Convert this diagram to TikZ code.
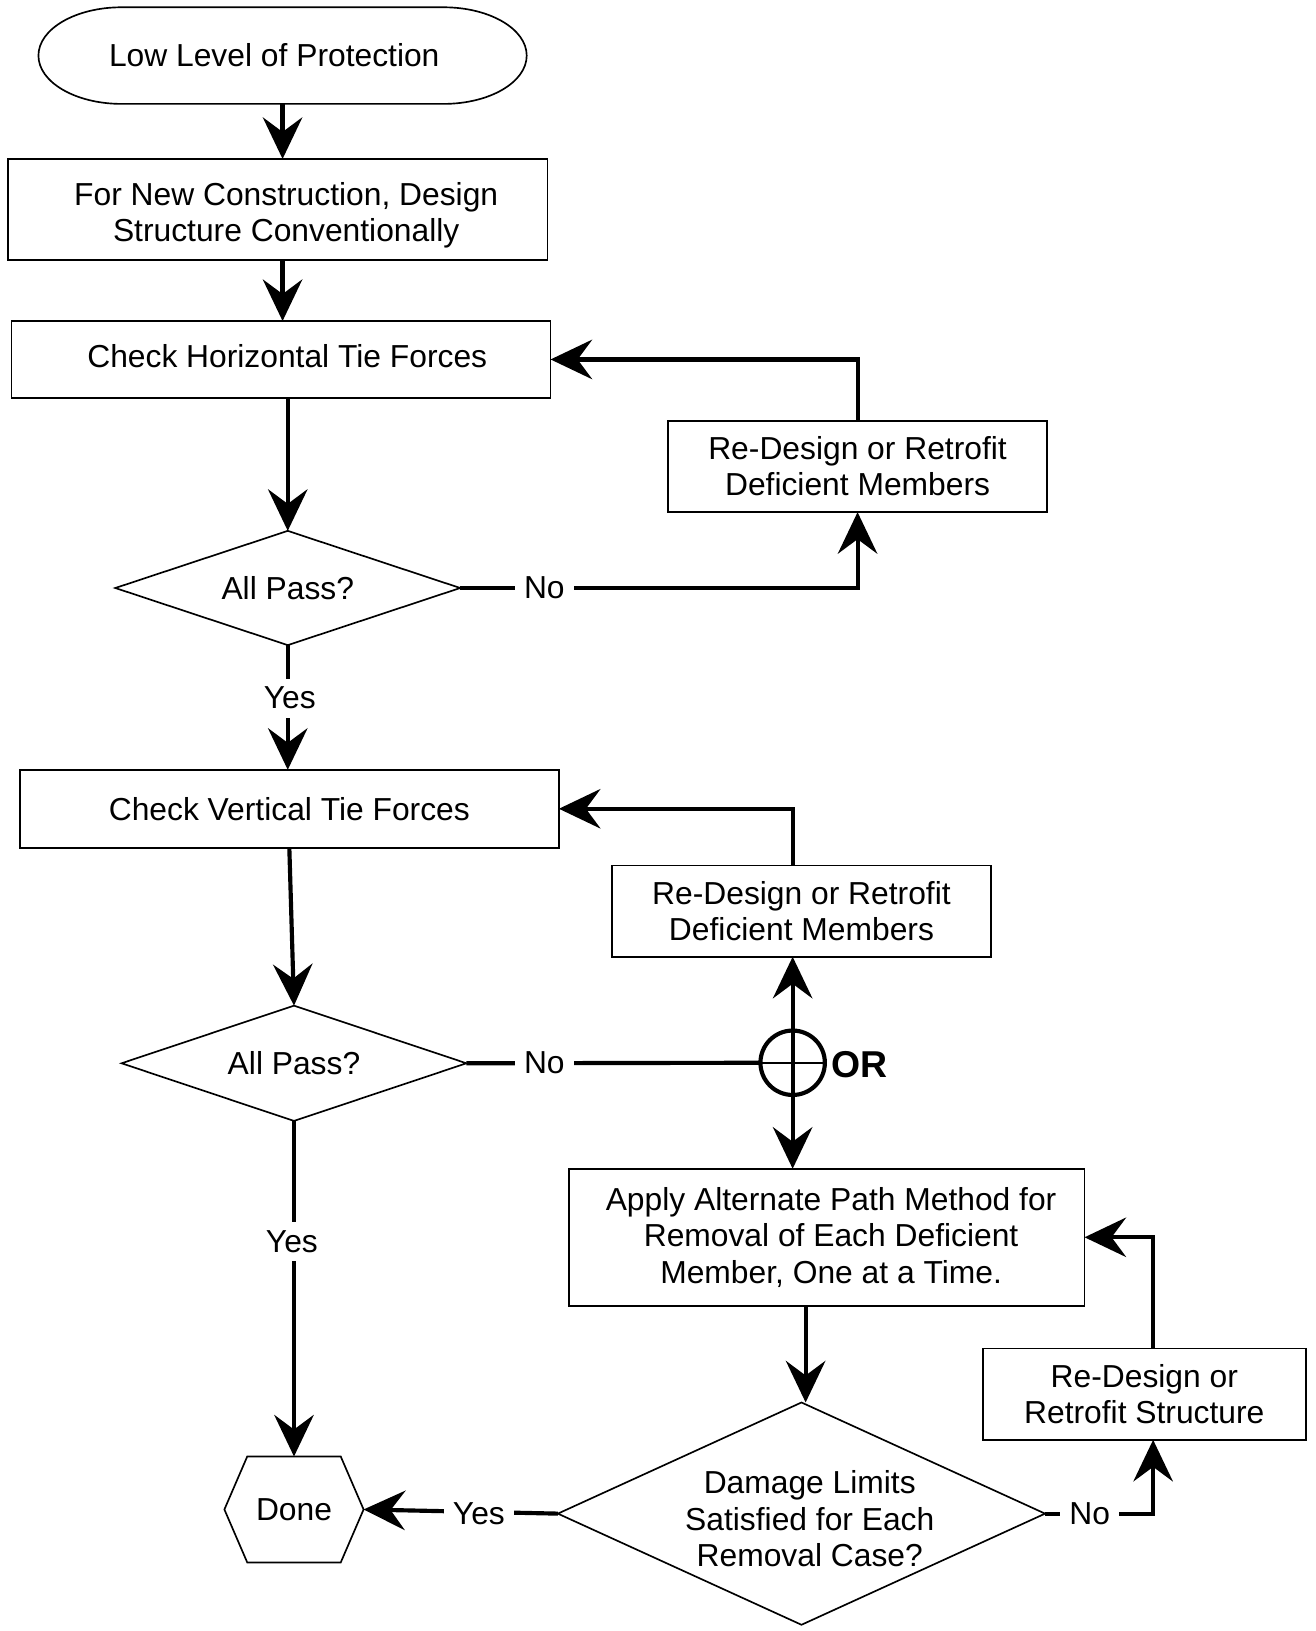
\documentclass[tikz,border=0pt]{standalone}
\usepackage{fontspec}
\setmainfont{Liberation Sans}
\usetikzlibrary{arrows.meta,shapes.geometric}
\begin{document}
\begin{tikzpicture}[x=0.5pt,y=0.5pt,
  every node/.style={font=\fontsize{15.3pt}{17.5pt}\selectfont, align=center},
  boxnode/.style={draw, line width=0.8pt, rectangle, inner sep=0pt, outer sep=0pt},
  decision/.style={draw, line width=0.8pt, diamond, inner sep=0pt, outer sep=0pt},
  plainnode/.style={inner sep=0pt, outer sep=0pt},
  conn/.style={line width=2pt, -{Stealth[length=20pt,width=19pt,inset=7pt]}},
  plainline/.style={line width=2pt},
  lab/.style={fill=white, inner xsep=4.5pt, inner ysep=4pt}
]
\useasboundingbox (0,0) rectangle (1266,-1570);

% start terminal
\node[plainnode, minimum width=235pt, minimum height=46.5pt] (start) at (272,-53.5) {};
\draw[line width=0.8pt] ([xshift=40pt]start.north west) -- ([xshift=-40pt]start.north east)
  arc[start angle=90, end angle=-90, x radius=80, y radius=46.5]
  -- ([xshift=40pt]start.south west)
  arc[start angle=270, end angle=90, x radius=80, y radius=46.5] -- cycle;
\node at ([xshift=-4pt]start.center) {Low Level of Protection};

\node[boxnode, minimum width=259.5pt, minimum height=48.5pt] (b1) at (267.5,-201.5) {};
\node at ([xshift=4pt,yshift=-3pt]b1.center) {For New Construction, Design\\Structure Conventionally};
\node[boxnode, minimum width=259.5pt, minimum height=37pt] (b2) at (270.5,-346) {};
\node at ([xshift=3pt,yshift=1.5pt]b2.center) {Check Horizontal Tie Forces};
\node[decision, minimum width=166pt, minimum height=55pt] (d1) at (277,-566) {};
\node at (d1.center) {All Pass?};
\node[boxnode, minimum width=182.5pt, minimum height=44pt] (rd1) at (825.5,-449)
  {Re-Design or Retrofit\\Deficient Members};
\node[boxnode, minimum width=259.5pt, minimum height=37.5pt] (b3) at (278.5,-778.5)
  {Check Vertical Tie Forces};
\node[decision, minimum width=166pt, minimum height=55.5pt] (d2) at (283,-1023.5) {};
\node at (d2.center) {All Pass?};
\node[boxnode, minimum width=182.5pt, minimum height=44pt] (rd2) at (771.5,-877)
  {Re-Design or Retrofit\\Deficient Members};
\node[circle, draw, line width=2pt, minimum size=31pt, inner sep=0pt, outer sep=0pt] (or) at (763,-1023) {};
\node[plainnode, anchor=west, font=\fontsize{18pt}{20pt}\selectfont\bfseries] (ortext) at ([xshift=3pt,yshift=-1pt]or.east) {OR};
\node[boxnode, minimum width=248pt, minimum height=66pt] (apply) at (796,-1191) {};
\node at ([xshift=2pt]apply.center) {Apply Alternate Path Method for\\Removal of Each Deficient\\Member, One at a Time.};
\node[decision, minimum width=234.5pt, minimum height=107pt] (d3) at (771.5,-1457) {};
\node at ([xshift=4pt,yshift=-2.5pt]d3.center) {Damage Limits\\Satisfied for Each\\Removal Case?};
\node[plainnode, minimum width=67pt, minimum height=51pt] (done) at (283,-1453) {Done};
\draw[line width=0.8pt] (done.west) -- ([xshift=11pt]done.north west) -- ([xshift=-11pt]done.north east)
  -- (done.east) -- ([xshift=-11pt]done.south east) -- ([xshift=11pt]done.south west) -- cycle;
\node[boxnode, minimum width=155.5pt, minimum height=44pt] (rd3) at (1101.5,-1342)
  {Re-Design or\\Retrofit Structure};

% connectors
\draw[conn] (start.south) -- (start.south |- b1.north);
\draw[conn] (b1.south -| start.south) -- (start.south |- b2.north);
\draw[conn] (b2.south -| d1.north) -- (d1.north);
\draw[conn] (d1.east) -| (rd1.south);
\draw[conn] (rd1.north) |- (b2.east);
\draw[conn] (d1.south) -- (d1.south |- b3.north);
\draw[conn] (b3.south) -- (d2.north);
\draw[plainline] (d2.east) -- (or.west);
\draw[line width=1pt] (or.west) -- (or.east);
\draw[conn] (or.center) -- (or.center |- rd2.south);
\draw[conn] (or.center) -- (or.center |- apply.north);
\draw[conn] (or.center |- rd2.north) |- (b3.east);
\draw[conn] ([xshift=2pt]d3.north |- apply.south) -- ([xshift=2pt]d3.north);
\draw[conn] (d3.west) -- (done.east);
\draw[conn] (d2.south) -- (done.north);
\draw[conn] (d3.east) -| ([xshift=4.25pt]rd3.south);
\draw[conn] ([xshift=4.25pt]rd3.north) |- (apply.east);

% labels
\node[lab] (no1) at (524,-566) {No};
\node[lab] (yes1) at (279,-672) {Yes};
\node[lab] (no2) at (524,-1023) {No};
\node[lab] (yes2) at (281,-1195) {Yes};
\node[lab] (yes3) at (461,-1457) {Yes};
\node[lab] (no3) at (1049,-1457) {No};
\end{tikzpicture}
\end{document}
